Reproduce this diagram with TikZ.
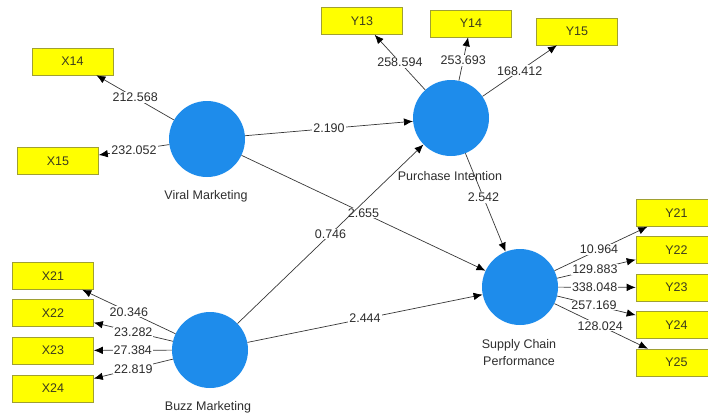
\documentclass[tikz,border=0pt]{standalone}
\usepackage{fontspec}
\setmainfont{Liberation Sans}
\usetikzlibrary{arrows.meta}
\definecolor{lvblue}{RGB}{30,140,235}
\definecolor{boxyellow}{RGB}{255,255,0}
\definecolor{boxedge}{RGB}{160,160,50}
\definecolor{boxtext}{RGB}{60,60,30}
\definecolor{linegray}{RGB}{55,55,55}
\definecolor{txtgray}{RGB}{45,45,45}
\begin{document}
\begin{tikzpicture}[x=1pt,y=-1pt,
 lv/.style={circle,fill=lvblue,minimum size=76pt,inner sep=0pt},
 ind/.style={rectangle,fill=boxyellow,draw=boxedge,line width=0.6pt,minimum width=81pt,minimum height=27pt,inner sep=0pt,text=boxtext,font=\fontsize{12.5}{14}\selectfont},
 lvname/.style={font=\fontsize{12.5}{17}\selectfont,text=txtgray,align=center},
 conn/.style={draw=linegray,line width=0.7pt,-{Latex[length=9pt,width=7.5pt,color=black]}},
 val/.style={fill=white,inner sep=1pt,font=\fontsize{12.5}{14}\selectfont,text=txtgray},
]
\useasboundingbox (0,0) rectangle (708,416);

% latent variables
\node[lv] (VM) at (207,139) {};
\node[lv] (PI) at (451,118) {};
\node[lv] (BM) at (210,350) {};
\node[lv] (SCP) at (520,287) {};
\node[lvname] (VMl) at (206,196) {Viral Marketing};
\node[lvname] (PIl) at (450,176) {Purchase Intention};
\node[lvname] (BMl) at (208,407) {Buzz Marketing};
\node[lvname] (SCPl) at (519,353) {Supply Chain\\Performance};

% indicators
\node[ind] (X14) at (72.5,61.5) {X14};
\node[ind] (X15) at (58,161) {X15};
\node[ind] (Y13) at (362,21) {Y13};
\node[ind] (Y14) at (471,23.5) {Y14};
\node[ind] (Y15) at (577,31.5) {Y15};
\node[ind] (X21) at (53,276) {X21};
\node[ind] (X22) at (53,313) {X22};
\node[ind] (X23) at (53,350.5) {X23};
\node[ind] (X24) at (53,388.5) {X24};
\node[ind] (Y21) at (676.5,213) {Y21};
\node[ind] (Y22) at (676.5,250) {Y22};
\node[ind] (Y23) at (676.5,287.5) {Y23};
\node[ind] (Y24) at (676.5,325) {Y24};
\node[ind] (Y25) at (676.5,362.5) {Y25};

% outer loadings
\draw[conn] (VM) -- node[val]{212.568} (X14);
\draw[conn] (VM) -- node[val]{232.052} (X15);
\draw[conn] (PI) -- node[val]{258.594} (Y13);
\draw[conn] (PI) -- node[val,pos=0.47]{253.693} (Y14);
\draw[conn] (PI) -- node[val]{168.412} (Y15);
\draw[conn] (BM) -- node[val]{20.346} (X21);
\draw[conn] (BM) -- node[val]{23.282} (X22);
\draw[conn] (BM) -- node[val]{27.384} (X23);
\draw[conn] (BM) -- node[val]{22.819} (X24);
\draw[conn] (SCP) -- node[val,pos=0.48]{10.964} (Y21);
\draw[conn] (SCP) -- node[val,pos=0.48]{129.883} (Y22);
\draw[conn] (SCP) -- node[val,pos=0.47]{338.048} (Y23);
\draw[conn] (SCP) -- node[val,pos=0.47]{257.169} (Y24);
\draw[conn] (SCP) -- node[val,pos=0.49]{128.024} (Y25);

% inner model
\draw[conn] (VM) -- node[val]{2.190} (PI);
\draw[conn] (VM) -- node[val]{2.655} (SCP);
\draw[conn] (BM) -- node[val]{0.746} (PI);
\draw[conn] (BM) -- node[val]{2.444} (SCP);
\draw[conn] (PI) -- node[val,pos=0.45]{2.542} (SCP);
\end{tikzpicture}
\end{document}
